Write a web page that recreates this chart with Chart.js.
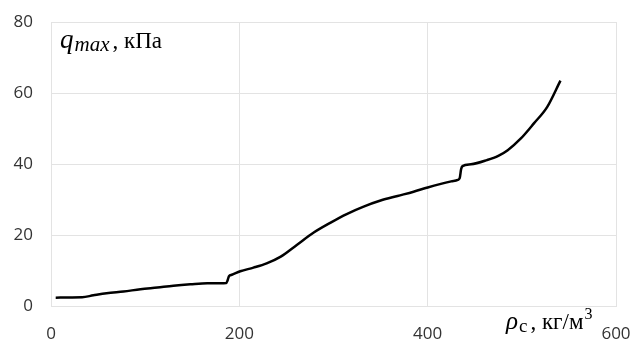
<!DOCTYPE html>
<html>
<head>
<meta charset="utf-8">
<script src="https://cdn.jsdelivr.net/npm/chart.js@4.4.1/dist/chart.umd.min.js"></script>
<style>
  html, body { margin: 0; padding: 0; background: #ffffff; }
  #wrap { width: 634px; height: 341px; position: relative; }
</style>
</head>
<body>
<div id="wrap"><canvas id="c" width="634" height="341"></canvas></div>
<script>
// Density of snow, kg/m3
const density = [5, 20, 33, 45, 59, 77, 95, 113, 130, 148, 166, 180, 186, 187.5, 189, 192, 201, 215, 229, 244, 261, 279, 297, 314, 332, 350, 368, 385, 400, 414, 425, 432, 434, 435.5, 437, 446, 463, 475, 485, 499, 513, 527, 541];
// Maximum load, kPa
const qMax = [2.35, 2.4, 2.45, 3.0, 3.6, 4.1, 4.7, 5.2, 5.7, 6.1, 6.4, 6.4, 6.45, 7.2, 8.4, 8.8, 9.8, 10.8, 12.0, 13.9, 17.2, 20.7, 23.5, 25.9, 28.0, 29.7, 31.0, 32.2, 33.4, 34.4, 35.1, 35.5, 36.0, 38.5, 39.4, 39.9, 41.1, 42.3, 43.9, 47.2, 51.5, 56.1, 63.5];

const xTicks = [0, 200, 400, 600];
const yTicks = [0, 20, 40, 60, 80];

const points = density.map((x, i) => ({ x: x, y: qMax[i] }));

const tickFont = { family: '"Open Sans", "Noto Sans", sans-serif', size: 17 };
const serif = '"Liberation Serif", "DejaVu Serif", serif';

// Draws a run of text pieces, each with its own font and baseline shift
function drawRun(ctx, x, y, parts) {
  let cx = x;
  parts.forEach(p => {
    ctx.font = p.font;
    cx += (p.before || 0);
    ctx.fillText(p.text, cx, y + (p.dy || 0));
    cx += ctx.measureText(p.text).width;
  });
}

const axisTitles = {
  id: 'axisTitles',
  afterDraw(chart) {
    const ctx = chart.ctx;
    const area = chart.chartArea;
    ctx.save();
    ctx.fillStyle = '#000000';
    ctx.textBaseline = 'alphabetic';
    ctx.textAlign = 'left';
    drawRun(ctx, area.left + 9, 48, [
      { text: 'q', font: 'italic 27px ' + serif },
      { text: 'max', font: 'italic 21px ' + serif, dy: 3, before: 1 },
      { text: ',', font: '23px ' + serif, before: 3 },
      { text: ' кПа', font: '23px ' + serif }
    ]);
    drawRun(ctx, 506, 329, [
      { text: 'ρ', font: 'italic 25px ' + serif },
      { text: 'c', font: '19px ' + serif, dy: 3, before: 1 },
      { text: ',', font: '23px ' + serif, before: 3 },
      { text: ' кг/м', font: '23px ' + serif },
      { text: '3', font: '16px ' + serif, dy: -10, before: 1 }
    ]);
    ctx.restore();
  }
};

new Chart(document.getElementById('c'), {
  type: 'scatter',
  data: {
    datasets: [{
      data: points,
      showLine: true,
      borderColor: '#000000',
      borderWidth: 2.5,
      pointRadius: 0,
      cubicInterpolationMode: 'monotone',
      fill: false
    }]
  },
  options: {
    responsive: false,
    animation: false,
    layout: { padding: { top: 22, right: 18, left: 0, bottom: 0 } },
    plugins: { legend: { display: false }, tooltip: { enabled: false } },
    scales: {
      x: {
        type: 'linear',
        min: 0, max: 600,
        afterBuildTicks: s => { s.ticks = xTicks.map(v => ({ value: v })); },
        afterFit: s => { s.height = 35; s.paddingLeft = 0; s.paddingRight = 0; },
        grid: { color: '#e3e3e3', lineWidth: 1, drawTicks: false },
        border: { color: '#e3e3e3' },
        ticks: { color: '#333333', font: tickFont, padding: 18, maxRotation: 0 }
      },
      y: {
        type: 'linear',
        min: 0, max: 80,
        afterBuildTicks: s => { s.ticks = yTicks.map(v => ({ value: v })); },
        afterFit: s => { s.width = 51; s.paddingTop = 0; s.paddingBottom = 0; },
        grid: { color: '#e3e3e3', lineWidth: 1, drawTicks: false },
        border: { color: '#e3e3e3' },
        ticks: { color: '#333333', font: tickFont, padding: 18 }
      }
    }
  },
  plugins: [axisTitles]
});
</script>
</body>
</html>
